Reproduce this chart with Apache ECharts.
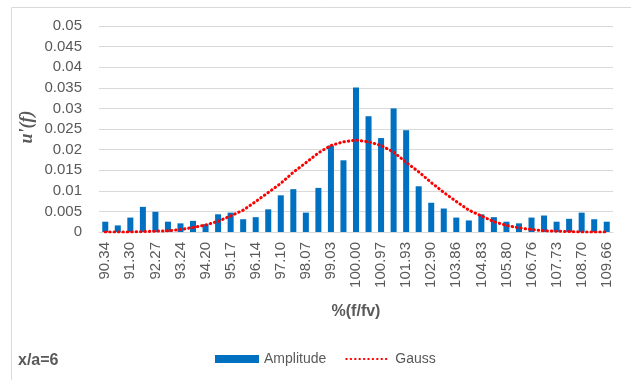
<!DOCTYPE html>
<html><head><meta charset="utf-8">
<script src="https://cdn.jsdelivr.net/npm/echarts@6/dist/echarts.min.js"></script>
<style>html,body{margin:0;padding:0;background:#fff}#c{width:631px;height:380px}</style>
</head><body><div id="c"></div>
<script>
const categories = ['90.34','90.82','91.30','91.79','92.27','92.75','93.24','93.72','94.20','94.69','95.17','95.65','96.14','96.62','97.10','97.58','98.07','98.55','99.03','99.52','100.00','100.48','100.97','101.45','101.93','102.42','102.90','103.38','103.86','104.35','104.83','105.31','105.80','106.28','106.76','107.25','107.73','108.21','108.70','109.18','109.66'];
const amplitude = [0.0025,0.0016,0.0035,0.0061,0.0049,0.0025,0.0021,0.0027,0.0019,0.0043,0.0047,0.0031,0.0036,0.0055,0.0089,0.0104,0.0047,0.0107,0.0210,0.0174,0.0351,0.0281,0.0228,0.0300,0.0247,0.0111,0.0071,0.0057,0.0035,0.0028,0.0043,0.0036,0.0025,0.0021,0.0035,0.0040,0.0025,0.0032,0.0047,0.0031,0.0025];
const gauss = [0.0000,0.0000,0.0000,0.0001,0.0002,0.0003,0.0006,0.0011,0.0017,0.0026,0.0039,0.0053,0.0074,0.0096,0.0118,0.0145,0.0168,0.0192,0.0210,0.0219,0.0223,0.0219,0.0210,0.0194,0.0169,0.0146,0.0120,0.0096,0.0074,0.0053,0.0039,0.0025,0.0016,0.0010,0.0006,0.0003,0.0002,0.0001,0.0000,0.0000,0.0000];
const yTicks = {min: 0, max: 0.05, interval: 0.005};

const txt = '#595959';
const font = 'Liberation Sans';
const chart = echarts.init(document.getElementById('c'), null, {renderer: 'canvas'});
chart.setOption({
  animation: false,
  textStyle: {fontFamily: font},
  grid: {left: 99, right: 18, top: 26, bottom: 148, containLabel: false},
  graphic: [
    {type: 'rect', shape: {x: 11.5, y: 7.5, width: 700, height: 500}, style: {fill: 'none', stroke: '#d9d9d9', lineWidth: 1}, silent: true},
    {type: 'text', left: 18, top: 353, style: {text: 'x/a=6', font: 'bold 16px "Liberation Sans"', fill: txt}},
    {type: 'text', x: 27, y: 127, rotation: Math.PI / 2, style: {text: "u'(f)", font: 'italic bold 18px "Liberation Serif"', fill: txt, align: 'center', verticalAlign: 'middle'}}
  ],
  legend: {
    left: 215, top: 352, padding: 0,
    itemWidth: 44, itemHeight: 8, itemGap: 19,
    textStyle: {color: txt, fontSize: 14, fontFamily: font, padding: [0, 0, 0, 0]},
    data: [
      {name: 'Amplitude', icon: 'rect'},
      {name: 'Gauss', itemStyle: {color: 'rgba(0,0,0,0)', borderColor: 'rgba(0,0,0,0)', borderWidth: 0}}
    ]
  },
  xAxis: {
    type: 'category', data: categories,
    name: '%(f/fv)', nameLocation: 'middle', nameGap: 72,
    nameTextStyle: {color: txt, fontSize: 16, fontWeight: 'bold', fontFamily: font},
    axisLine: {lineStyle: {color: '#d9d9d9'}},
    axisTick: {show: false},
    axisLabel: {interval: 1, rotate: 90, color: txt, fontSize: 15, fontFamily: font, margin: 10}
  },
  yAxis: {
    type: 'value', min: yTicks.min, max: yTicks.max, interval: yTicks.interval,
    axisLine: {show: false}, axisTick: {show: false},
    axisLabel: {color: txt, fontSize: 15, fontFamily: font, margin: 17},
    splitLine: {lineStyle: {color: '#d9d9d9', width: 1}}
  },
  series: [
    {name: 'Amplitude', type: 'bar', data: amplitude, barWidth: '48%', itemStyle: {color: '#0070C0'}},
    {name: 'Gauss', type: 'line', data: gauss, showSymbol: false, symbol: 'none', smooth: false,
     itemStyle: {color: '#FF0000'},
     lineStyle: {color: '#FF0000', width: 3, type: [0.5, 3.9], cap: 'round'}}
  ]
});
</script></body></html>
